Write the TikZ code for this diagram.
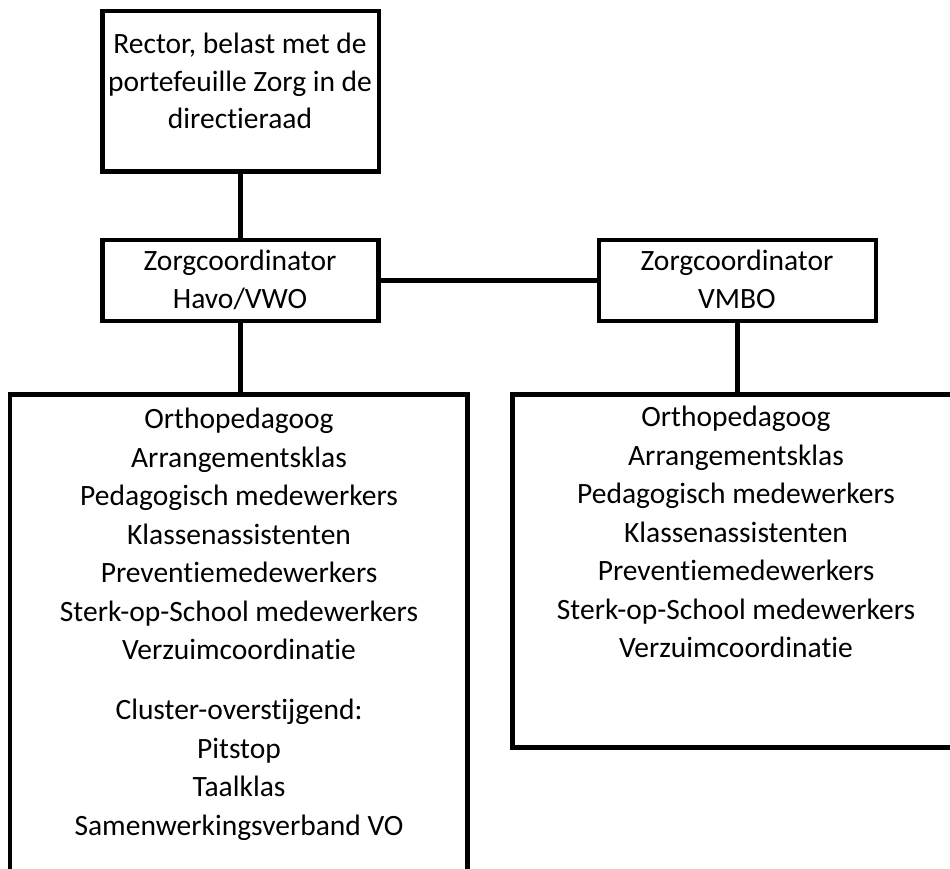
\documentclass[tikz,border=0pt]{standalone}
\usepackage{fontspec}
\setmainfont[Ligatures={NoCommon}]{Carlito}
\begin{document}
\begin{tikzpicture}[x=1pt,y=-1pt,
  box/.style={draw=black, line width=4.5pt, rectangle, inner sep=0pt, outer sep=0pt},
  conn/.style={draw=black, line width=4.5pt},
  lbl/.style={anchor=north, inner sep=0pt, align=center, font=\fontsize{29.5}{37.5}\selectfont},
  lblbig/.style={anchor=north, inner sep=0pt, align=center, font=\fontsize{29.5}{38.5}\selectfont}]
\useasboundingbox (0,0) rectangle (950,868);
\clip (0,0) rectangle (950,868);
% boxes
\node[box, minimum width=276.5pt, minimum height=160.5pt] (b1) at (240.5,91.25) {};
\node[box, minimum width=276pt, minimum height=81pt] (b2) at (240.5,280.5) {};
\node[box, minimum width=277pt, minimum height=81pt] (b3) at (737.5,280.5) {};
\node[box, minimum width=457.5pt, minimum height=520pt] (b4) at (238.75,654.5) {};
\node[box, minimum width=447.5pt, minimum height=353pt] (b5) at (736.25,571) {};
% texts
\node[lbl] (t1) at (240,33) {Rector, belast met de\\portefeuille Zorg in de\\directieraad};
\node[lbl] (t2) at (240,250) {Zorgcoordinator\\Havo/VWO};
\node[lbl] (t3) at (737,250) {Zorgcoordinator\\VMBO};
\node[lblbig] (t4) at (239,408) {Orthopedagoog\\Arrangementsklas\\Pedagogisch medewerkers\\Klassenassistenten\\Preventiemedewerkers\\Sterk-op-School medewerkers\\Verzuimcoordinatie\\[21.5pt]Cluster-overstijgend:\\Pitstop\\Taalklas\\Samenwerkingsverband VO};
\node[lblbig] (t5) at (736,406) {Orthopedagoog\\Arrangementsklas\\Pedagogisch medewerkers\\Klassenassistenten\\Preventiemedewerkers\\Sterk-op-School medewerkers\\Verzuimcoordinatie};
% connectors
\draw[conn] (b1.south) -- (b2.north);
\draw[conn] (b2.east) -- (b3.west);
\draw[conn] (b2.south) -- (b2.south |- b4.north);
\draw[conn] (b3.south) -- (b3.south |- b5.north);
\end{tikzpicture}
\end{document}
